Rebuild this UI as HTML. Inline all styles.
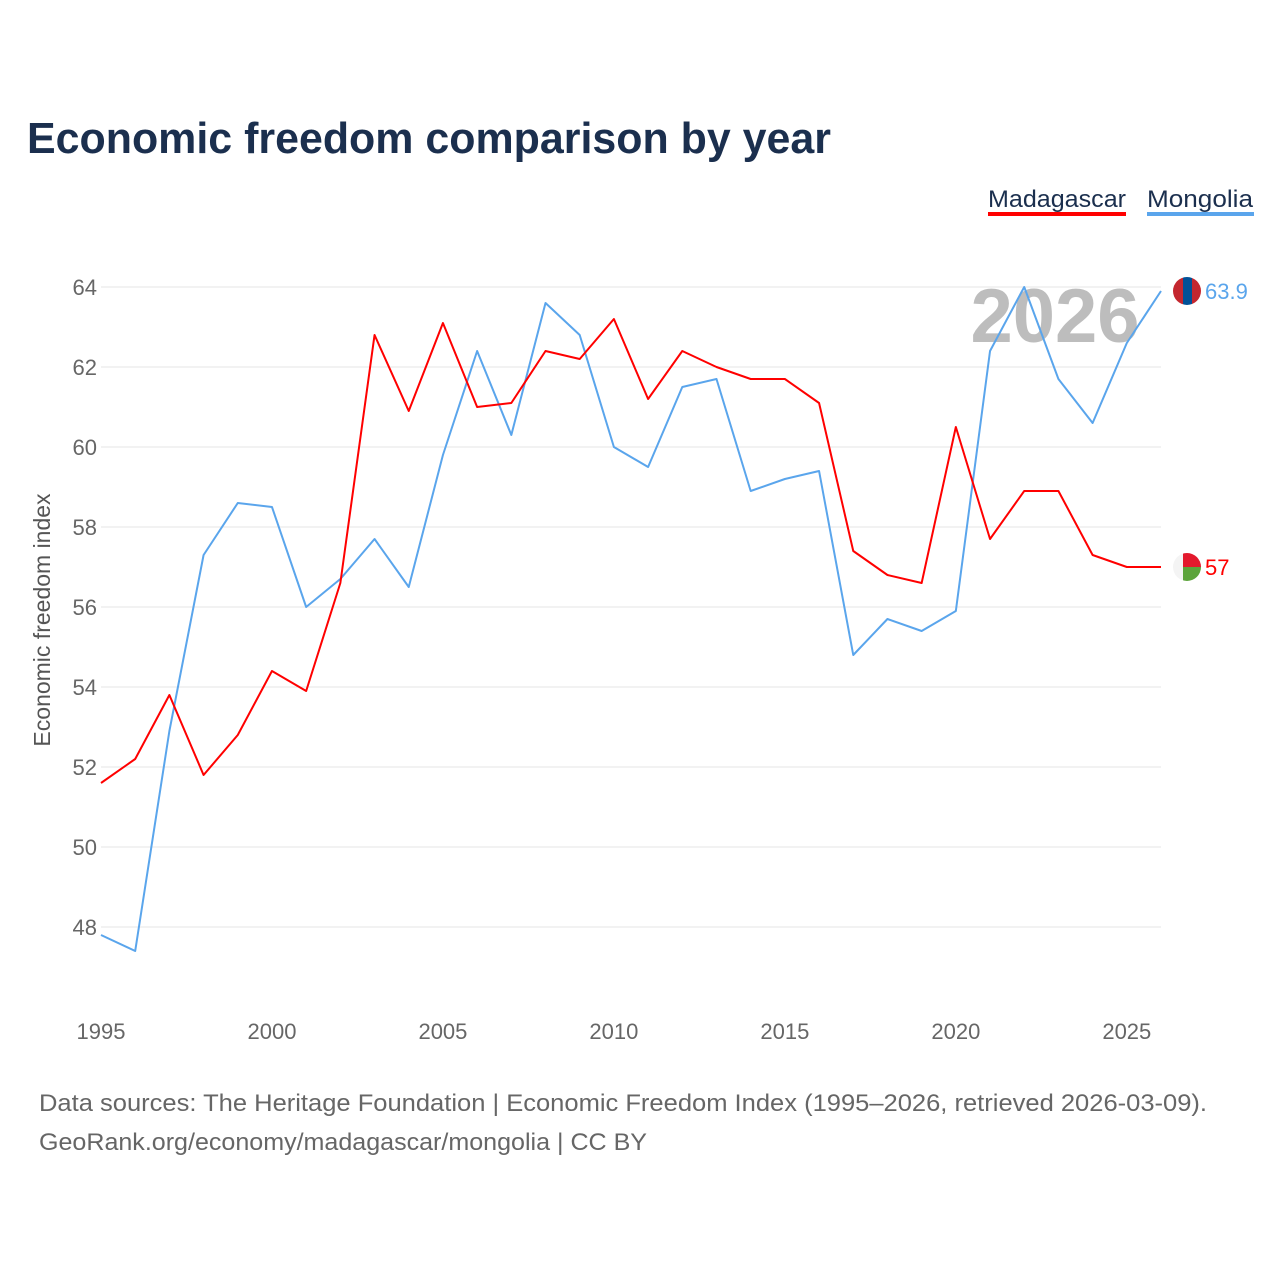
<!DOCTYPE html>
<html><head><meta charset="utf-8"><style>
body{margin:0;background:#fff;font-family:"Liberation Sans",sans-serif;}
#wrap{position:relative;width:1280px;height:1280px;overflow:hidden;}
</style></head><body>
<div id="wrap">
<svg id="chart" width="1280" height="1280" xmlns="http://www.w3.org/2000/svg">
<text x="27" y="153" font-size="44" font-weight="bold" fill="#1b2f4e" textLength="804" lengthAdjust="spacingAndGlyphs">Economic freedom comparison by year</text>
<g><text x="988" y="207" font-size="24" fill="#1b2f4e" textLength="138" lengthAdjust="spacingAndGlyphs">Madagascar</text><rect x="988" y="212" width="138" height="4" fill="#ff0000"/></g>
<g><text x="1147" y="207" font-size="24" fill="#1b2f4e" textLength="106" lengthAdjust="spacingAndGlyphs">Mongolia</text><rect x="1147" y="212" width="107" height="4" fill="#5aa5ec"/></g>
<text x="1055" y="342" font-size="76" font-weight="bold" fill="#bdbdbd" text-anchor="middle">2026</text>
<g id="grid"></g><g id="lines"></g>
<text transform="translate(50,620) rotate(-90)" font-size="23" fill="#555" text-anchor="middle">Economic freedom index</text>
<text x="39" y="1111" font-size="24" fill="#666" textLength="1168" lengthAdjust="spacingAndGlyphs">Data sources: The Heritage Foundation | Economic Freedom Index (1995–2026, retrieved 2026-03-09).</text>
<text x="39" y="1150" font-size="24" fill="#666" textLength="608" lengthAdjust="spacingAndGlyphs">GeoRank.org/economy/madagascar/mongolia | CC BY</text>
</svg></div>
<script>
const years=[];for(let y=1995;y<=2026;y++)years.push(y);
const madagascar=[51.6,52.2,53.8,51.8,52.8,54.4,53.9,56.6,62.8,60.9,63.1,61.0,61.1,62.4,62.2,63.2,61.2,62.4,62.0,61.7,61.7,61.1,57.4,56.8,56.6,60.5,57.7,58.9,58.9,57.3,57.0,57.0];
const mongolia=[47.8,47.4,52.9,57.3,58.6,58.5,56.0,56.7,57.7,56.5,59.8,62.4,60.3,63.6,62.8,60.0,59.5,61.5,61.7,58.9,59.2,59.4,54.8,55.7,55.4,55.9,62.4,64.0,61.7,60.6,62.6,63.9];
const yTicks=[48,50,52,54,56,58,60,62,64];
const xTicks=[1995,2000,2005,2010,2015,2020,2025];
const NS="http://www.w3.org/2000/svg";
const X=y=>101+(y-1995)*(1161-101)/31;
const Y=v=>287+(64-v)*40;
function mk(t,a,p){const e=document.createElementNS(NS,t);for(const k in a)e.setAttribute(k,a[k]);p.appendChild(e);return e;}
const grid=document.getElementById('grid'),lines=document.getElementById('lines');
yTicks.forEach(v=>{
 const l=mk('line',{x1:101,x2:1161,y1:Y(v),y2:Y(v),stroke:'#e6e6e6','stroke-width':1},grid);
 
 
 const t=mk('text',{x:97,y:Y(v)+8,'font-size':22,fill:'#666','text-anchor':'end'},grid);t.textContent=v;
 
 
});
xTicks.forEach(v=>{
 const t=mk('text',{x:X(v),y:1039,'font-size':22,fill:'#666','text-anchor':'middle'},grid);t.textContent=v;
 
 
});
function series(vals,color,name){
 const p=mk('polyline',{points:vals.map((v,i)=>X(years[i])+','+Y(v)).join(' '),fill:'none',stroke:color,'stroke-width':2,'stroke-linejoin':'round'},lines);
 
 
}
series(mongolia,'#5aa5ec','mongolia');
series(madagascar,'#ff0000','madagascar');
function endMark(vals,color,name,flag){
 const v=vals[vals.length-1],cy=Y(v),cx=1187;
 const g=mk('g',{},lines);
 
 
 const cp=mk('clipPath',{id:'c'+name},g);mk('circle',{cx:cx,cy:cy,r:14},cp);
 const f=mk('g',{'clip-path':'url(#c'+name+')'},g);
 if(flag==='mn'){mk('rect',{x:cx-14,y:cy-14,width:10,height:28,fill:'#c4272f'},f);mk('rect',{x:cx-4,y:cy-14,width:9,height:28,fill:'#015197'},f);mk('rect',{x:cx+5,y:cy-14,width:10,height:28,fill:'#c4272f'},f);}
 else{mk('rect',{x:cx-14,y:cy-14,width:10,height:28,fill:'#f4f4f4'},f);mk('rect',{x:cx-4,y:cy-14,width:19,height:14,fill:'#e3192d'},f);mk('rect',{x:cx-4,y:cy,width:19,height:14,fill:'#5ca43b'},f);}
 const t=mk('text',{x:1205,y:cy+8,'font-size':22,fill:color},g);t.textContent=v;
}
endMark(mongolia,'#5aa5ec','mongolia','mn');
endMark(madagascar,'#ff0000','madagascar','mg');
</script>
</body></html>
